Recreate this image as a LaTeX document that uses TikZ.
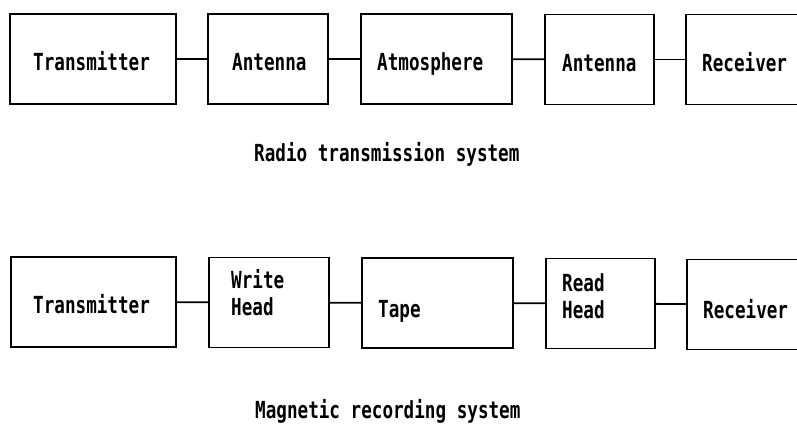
\documentclass[tikz,border=0pt]{standalone}
\usepackage{fontspec}
\newfontfamily\diagfont[FakeStretch=0.75]{DejaVu Sans Mono Bold}
\begin{document}
\begin{tikzpicture}[x=1pt,y=-1pt,
  blk/.style={draw,line width=1.8pt,minimum height=90pt,inner sep=0pt,anchor=center},
  conn/.style={line width=1.8pt},
  txt/.style={font=\diagfont\fontsize{23.5}{27}\selectfont,anchor=base west,inner sep=0pt}]
\useasboundingbox (0,0) rectangle (797,427);
\begin{scope}
\clip (0,0) rectangle (797,427);
% top row
\node[blk,minimum width=166pt] (t1) at (93,59) {};
\node[blk,minimum width=120pt] (t2) at (268,59) {};
\node[blk,minimum width=151pt] (t3) at (436.5,59) {};
\node[blk,minimum width=109pt] (t4) at (599.5,59.5) {};
\node[blk,minimum width=124pt] (t5) at (748,59.5) {};
\node[txt] (t1l) at (33,71) {Transmitter};
\node[txt] (t2l) at (232,71) {Antenna};
\node[txt] (t3l) at (377,71) {Atmosphere};
\node[txt] (t4l) at (562,72) {Antenna};
\node[txt] (t5l) at (702,72) {Receiver};
\draw[conn] (t1) -- (t2);
\draw[conn] (t2) -- (t3);
\draw[conn] (t3) -- (t4);
\draw[conn] (t4) -- (t5);
\node[txt] (c1) at (254,162) {Radio transmission system};
% bottom row
\node[blk,minimum width=165pt] (b1) at (93.5,302) {};
\node[blk,minimum width=120pt] (b2) at (269,302.5) {};
\node[blk,minimum width=151pt] (b3) at (437.5,303) {};
\node[blk,minimum width=109pt] (b4) at (600.5,303.5) {};
\node[blk,minimum width=124pt] (b5) at (749,304.5) {};
\node[txt] (b1l) at (33,313) {Transmitter};
\node[txt] (b2a) at (231,289) {Write};
\node[txt] (b2b) at (231,316) {Head};
\node[txt] (b3l) at (378,317) {Tape};
\node[txt] (b4a) at (562,292) {Read};
\node[txt] (b4b) at (562,318) {Head};
\node[txt] (b5l) at (703,318) {Receiver};
\draw[conn] (b1) -- (b2);
\draw[conn] (b2) -- (b3);
\draw[conn] (b3) -- (b4);
\draw[conn] (b4) -- (b5);
\node[txt] (c2) at (255,418) {Magnetic recording system};
\end{scope}
\end{tikzpicture}
\end{document}
